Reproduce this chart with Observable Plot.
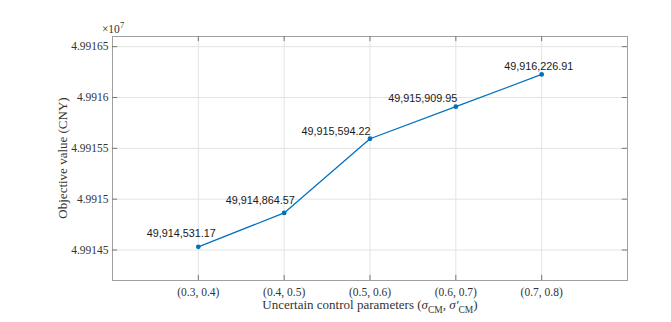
<!DOCTYPE html>
<html>
<head>
<meta charset="utf-8">
<script src="https://cdn.jsdelivr.net/npm/d3@7"></script>
<script src="https://cdn.jsdelivr.net/npm/@observablehq/plot@0.6"></script>
<style>
  html, body { margin: 0; padding: 0; background: #fff; }
  svg { display: block; }
</style>
</head>
<body>
<div id="chart"></div>
<script>
// ---- data ----
const categories = ["(0.3, 0.4)", "(0.4, 0.5)", "(0.5, 0.6)", "(0.6, 0.7)", "(0.7, 0.8)"];
const values = [49914531.17, 49914864.57, 49915594.22, 49915909.95, 49916226.91];
const yTickValues = [49914500, 49915000, 49915500, 49916000, 49916500];
const yTickLabels = ["4.99145", "4.9915", "4.99155", "4.9916", "4.99165"];
const yLabel = "Objective value (CNY)";
const xLabel = "Uncertain control parameters (";
const exponentLabel = "7";

// ---- layout (not data) ----
const labelDx = [-17, -24, -34, -33, -3];
const labelDy = [-13, -12, -7, -8, -8];

const positions = categories.map((_, i) => i + 1);
const fmt = d3.format(",.2f");
const rows = categories.map((c, i) => ({pos: i + 1, cat: c, value: values[i], label: fmt(values[i]), dx: labelDx[i], dy: labelDy[i]}));
const labelSet = new Set(rows.map(r => r.label));

const yDomain = [49914200, 49916600];
const xDomain = [0, 6];
const serif = "'Liberation Serif', 'Times New Roman', serif";
const sans = "'Liberation Sans', Arial, sans-serif";
const tickLenX = 0.06;   // in x units (~5px)
const tickLenY = 50;     // in y units (~5px)

const marks = [
  Plot.gridX(positions, {stroke: "#e3e3e3", strokeOpacity: 1}),
  Plot.gridY(yTickValues, {stroke: "#e3e3e3", strokeOpacity: 1}),
  Plot.frame({stroke: "#a0a0a0"}),
  // inward ticks
  Plot.ruleY(yTickValues, {y: d => d, x1: xDomain[0], x2: xDomain[0] + tickLenX, stroke: "#777"}),
  Plot.ruleY(yTickValues, {y: d => d, x1: xDomain[1], x2: xDomain[1] - tickLenX, stroke: "#777"}),
  Plot.ruleX(positions, {x: d => d, y1: yDomain[0], y2: yDomain[0] + tickLenY, stroke: "#777"}),
  Plot.ruleX(positions, {x: d => d, y1: yDomain[1], y2: yDomain[1] - tickLenY, stroke: "#777"}),
  Plot.axisY(yTickValues, {
    tickSize: 0, tickPadding: 4, label: null,
    tickFormat: d => yTickLabels[yTickValues.indexOf(d)],
    fontSize: 11.5, fill: "#333"
  }),
  Plot.axisX(positions, {
    tickSize: 0, tickPadding: 7, label: null,
    tickFormat: d => categories[d - 1],
    fontSize: 11.5, fill: "#333"
  }),
  Plot.line(rows, {x: "pos", y: "value", stroke: "#0072BD", strokeWidth: 1.3}),
  Plot.dot(rows, {x: "pos", y: "value", fill: "#0072BD", r: 2.4, stroke: "none"})
];
rows.forEach((r) => {
  marks.push(Plot.text([r], {x: "pos", y: "value", text: "label", dx: r.dx, dy: r.dy,
    fontSize: 10.8, fill: "#1a1a1a", textAnchor: "middle"}));
});

const chart = Plot.plot({
  width: 671, height: 322,
  marginLeft: 112, marginRight: 44, marginTop: 36, marginBottom: 42,
  x: {domain: xDomain, axis: null},
  y: {domain: yDomain, axis: null},
  style: {background: "white", overflow: "visible"},
  marks
});

const svg = d3.select(chart);
// fonts: serif for axes (MATLAB style), sans for value labels
svg.selectAll("text").each(function () {
  d3.select(this).style("font-family", labelSet.has(this.textContent) ? sans : serif);
});

// y axis title
svg.append("text")
  .attr("transform", "translate(67,158) rotate(-90)")
  .attr("text-anchor", "middle")
  .style("font-family", serif).attr("font-size", 13).attr("fill", "#333")
  .text(yLabel);
// exponent
const ex = svg.append("text")
  .attr("x", 113).attr("y", 33)
  .style("font-family", serif).attr("font-size", 11.5).attr("fill", "#333");
ex.append("tspan").text("\u00d710");
ex.append("tspan").attr("dy", -5).attr("font-size", 8.5).text(exponentLabel);
// x axis title with subscripts
const xt = svg.append("text")
  .attr("x", 370).attr("y", 309)
  .attr("text-anchor", "middle")
  .style("font-family", serif).attr("font-size", 13).attr("fill", "#333");
xt.append("tspan").text(xLabel);
xt.append("tspan").attr("font-style", "italic").text("\u03c3");
xt.append("tspan").attr("font-size", 9.5).attr("dy", 3.5).text("CM");
xt.append("tspan").attr("dy", -3.5).text(", ");
xt.append("tspan").attr("font-style", "italic").text("\u03c3\u2032");
xt.append("tspan").attr("font-size", 9.5).attr("dy", 3.5).text("CM");
xt.append("tspan").attr("dy", -3.5).text(")");

document.getElementById("chart").appendChild(chart);
</script>
</body>
</html>
